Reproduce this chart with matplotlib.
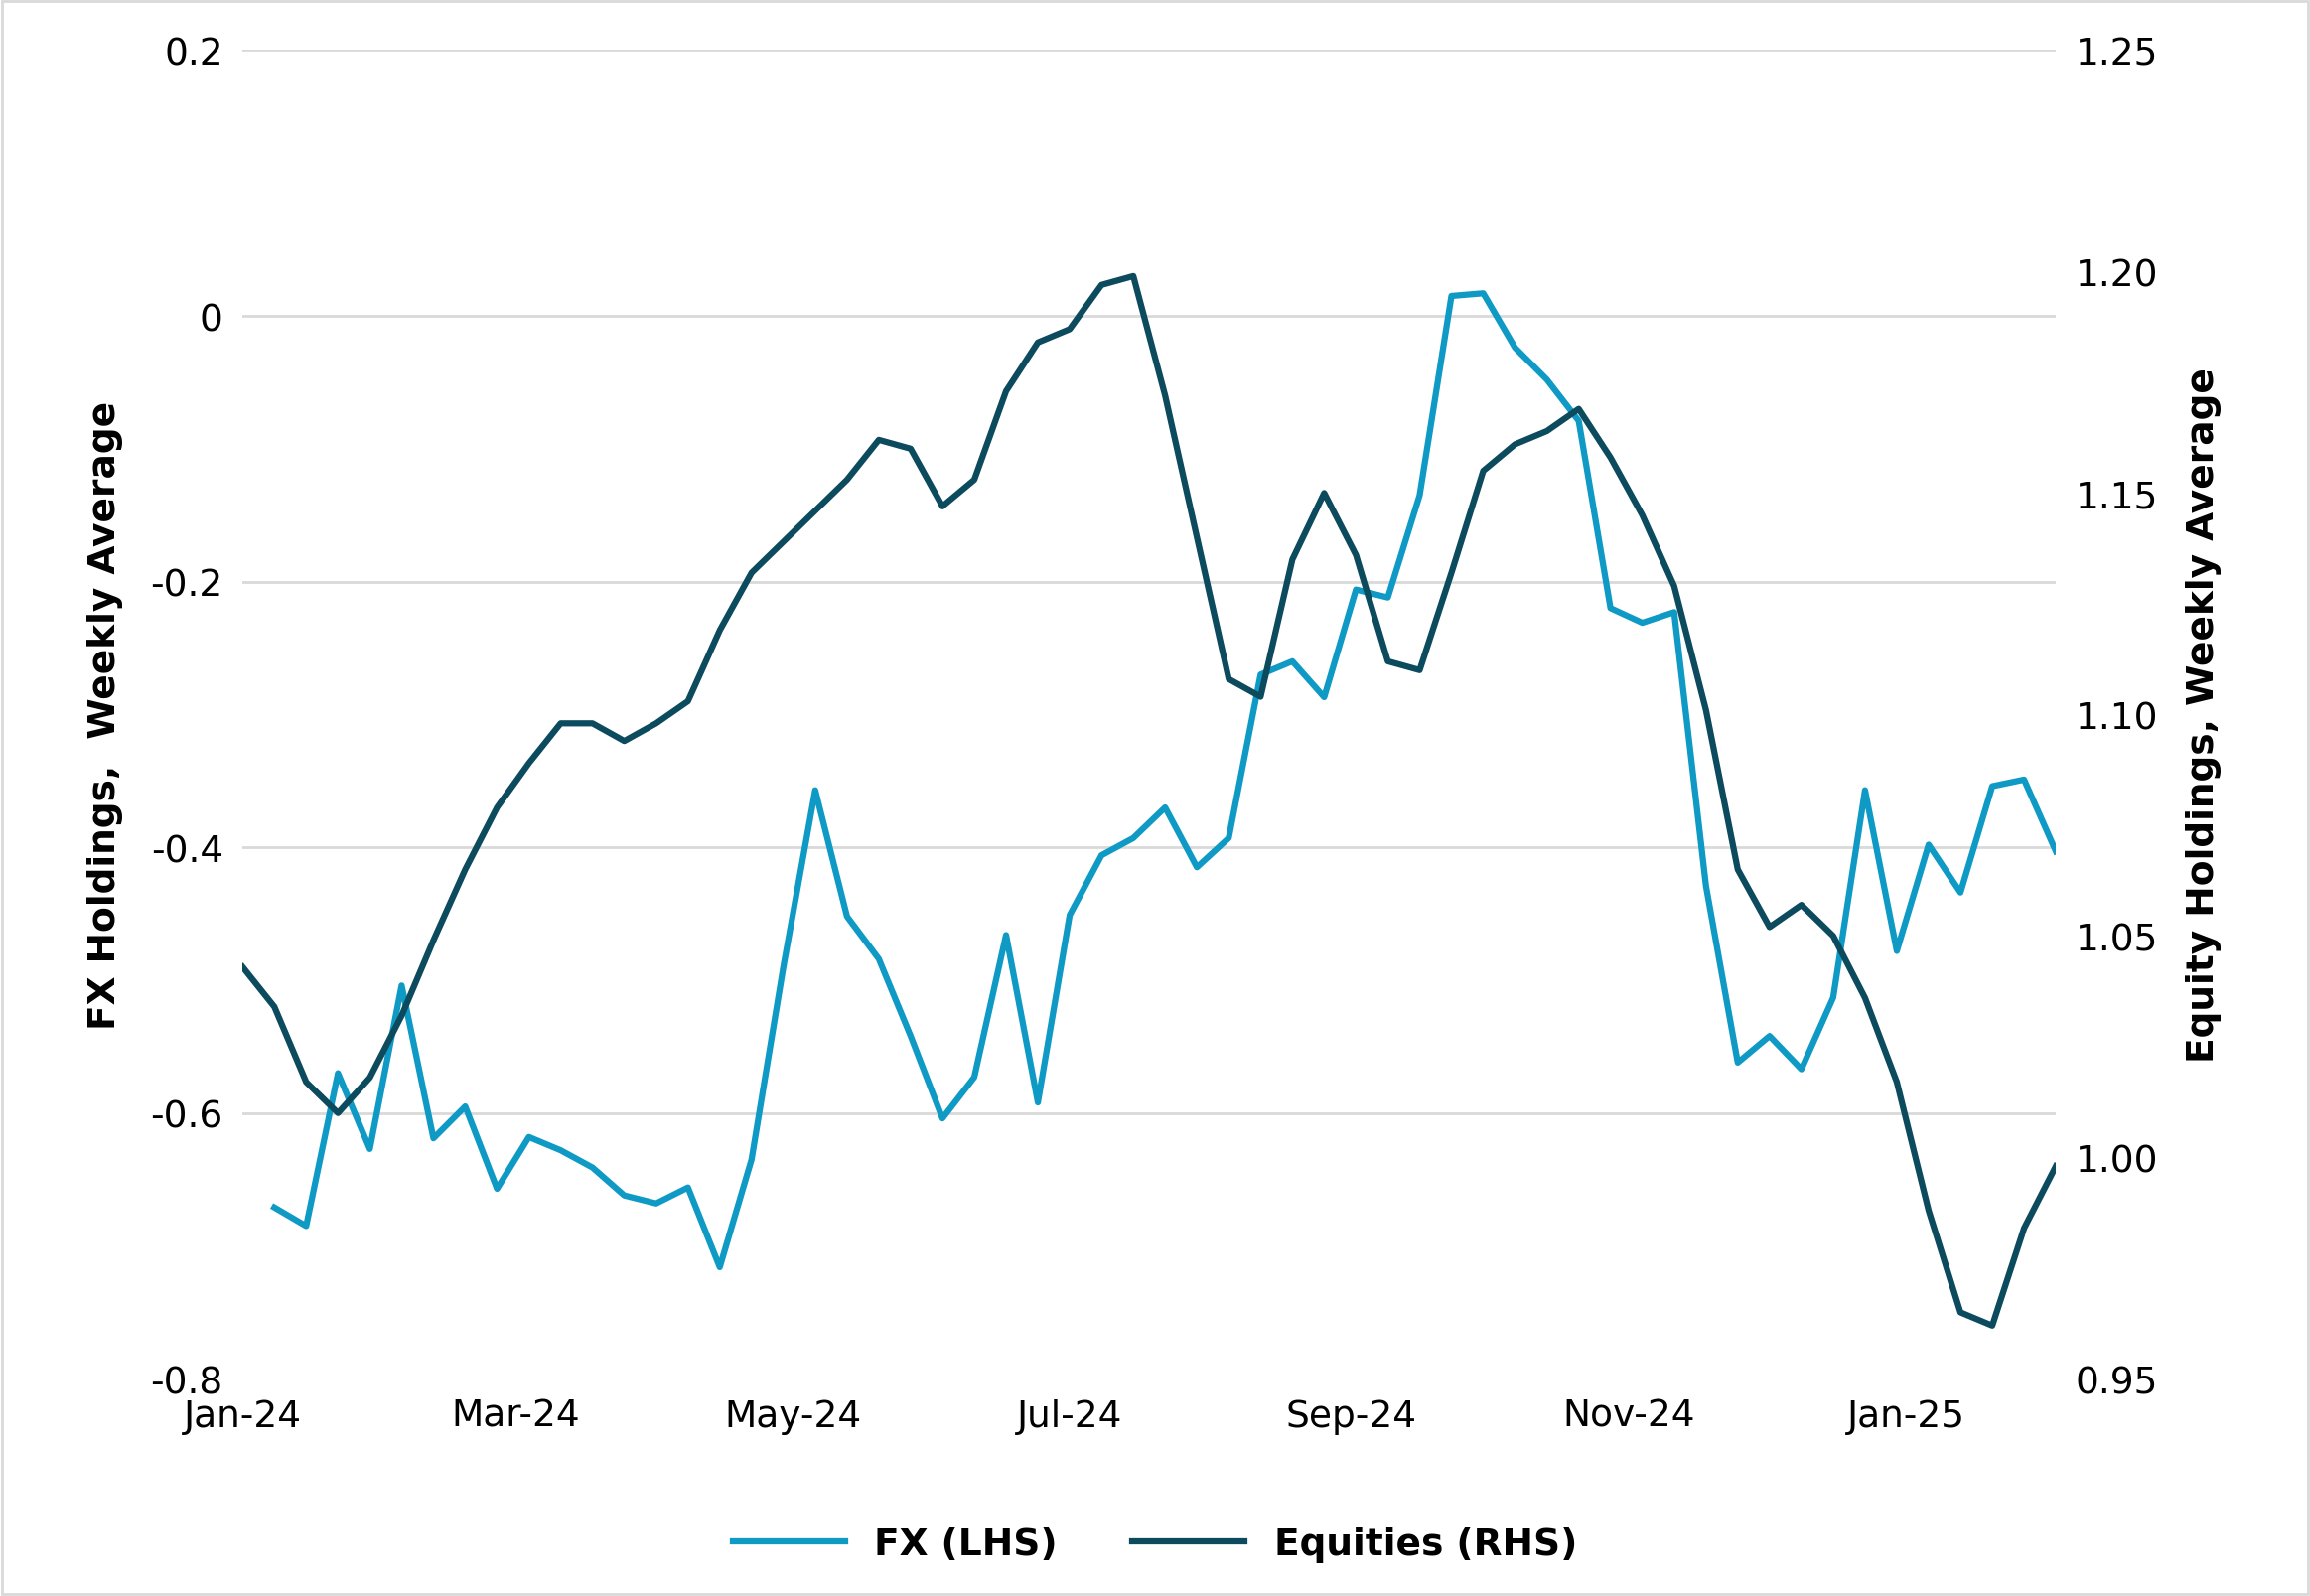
import matplotlib
matplotlib.use("Agg")
import matplotlib.pyplot as plt
import matplotlib.dates as mdates
import pandas as pd
import numpy as np

dates = pd.date_range("2024-01-01", periods=58, freq="7D")
equities = [1.043,1.034,1.017,1.010,1.018,1.032,1.049,1.065,1.079,1.089,1.098,1.098,1.094,1.098,1.103,1.119,
            1.132,1.139,1.146,1.153,1.162,1.160,1.147,1.153,1.173,1.184,1.187,1.197,1.199,1.172,1.140,1.108,
            1.104,1.135,1.150,1.136,1.112,1.110,1.132,1.155,1.161,1.164,1.169,1.158,1.145,1.129,1.101,1.065,
            1.052,1.057,1.050,1.036,1.017,0.988,0.965,0.962,0.984,0.998]
fx = [np.nan,-0.671,-0.685,-0.570,-0.627,-0.504,-0.619,-0.595,-0.657,-0.618,-0.628,-0.641,-0.662,-0.668,-0.656,
      -0.716,-0.635,-0.490,-0.357,-0.452,-0.484,-0.542,-0.604,-0.573,-0.466,-0.592,-0.451,-0.406,-0.393,-0.370,
      -0.415,-0.393,-0.270,-0.260,-0.287,-0.206,-0.212,-0.135,0.015,0.017,-0.024,-0.048,-0.079,-0.220,-0.231,
      -0.223,-0.429,-0.562,-0.542,-0.567,-0.513,-0.357,-0.478,-0.398,-0.434,-0.354,-0.349,-0.403]

FXC = "#0F9AC6"
EQC = "#0C4A5E"
fs = 27

fig = plt.figure(figsize=(23.26, 16.08), dpi=100)
ax = fig.add_axes([0.105, 0.136, 0.785, 0.832])
ax2 = ax.twinx()
l1, = ax.plot(dates, fx, color=FXC, lw=4.5, label="FX (LHS)")
l2, = ax2.plot(dates, equities, color=EQC, lw=4.5, label="Equities (RHS)")
ax.set_ylim(-0.8, 0.2)
ax.set_yticks([-0.8, -0.6, -0.4, -0.2, 0, 0.2])
ax.set_yticklabels(["-0.8", "-0.6", "-0.4", "-0.2", "0", "0.2"])
ax2.set_ylim(0.95, 1.25)
ax2.set_yticks([0.95, 1.0, 1.05, 1.10, 1.15, 1.20, 1.25])
ax2.set_yticklabels(["0.95", "1.00", "1.05", "1.10", "1.15", "1.20", "1.25"])
ax.set_xlim(dates[0], dates[-1])
ax.xaxis.set_major_locator(mdates.MonthLocator(bymonth=[1, 3, 5, 7, 9, 11]))
ax.xaxis.set_major_formatter(mdates.DateFormatter("%b-%y"))
ax.grid(axis="y", color="#D9D9D9", lw=2)
ax.set_axisbelow(True)
for a in (ax, ax2):
    for s in a.spines.values():
        s.set_visible(False)
    a.tick_params(length=0, labelsize=fs, pad=14)
ax.set_ylabel("FX Holdings,  Weekly Average", fontsize=fs, fontweight="bold", labelpad=20)
ax2.set_ylabel("Equity Holdings, Weekly Average", fontsize=fs, fontweight="bold", labelpad=20)
ax2.spines["bottom"].set_visible(False)
fig.legend(handles=[l1, l2], loc="lower center", bbox_to_anchor=(0.5, 0.0), ncol=2, frameon=False,
           prop={"size": fs, "weight": "bold"}, handlelength=3, columnspacing=2)
fig.patches.append(plt.Rectangle((0.001, 0.001), 0.998, 0.998, transform=fig.transFigure,
                                 fill=False, edgecolor="#D9D9D9", lw=2))
fig.savefig("out.png", dpi=100)
